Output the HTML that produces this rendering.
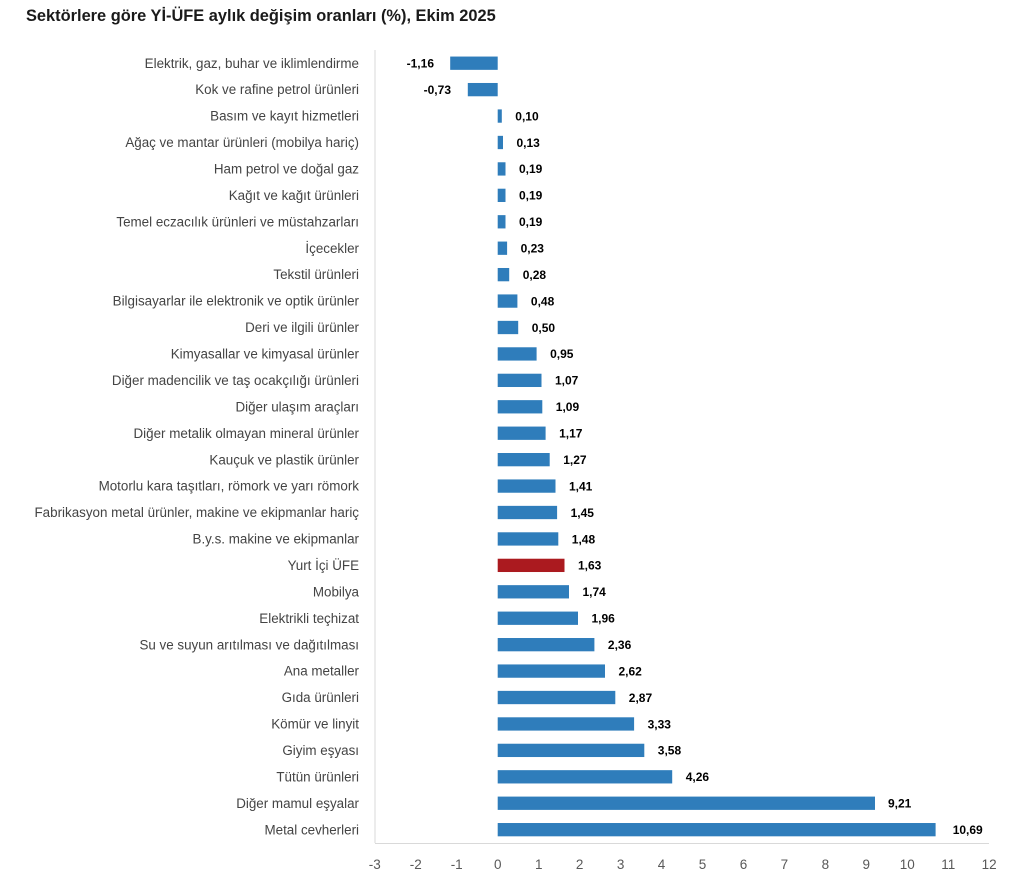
<!DOCTYPE html>
<html>
<head>
<meta charset="utf-8">
<style>
  html, body { margin:0; padding:0; background:#ffffff; }
  svg { display:block; }
  .cat { font-family:"Liberation Sans", Arial, sans-serif; font-size:13.4px; fill:#444444; }
  .val { font-family:"Liberation Sans", Arial, sans-serif; font-size:12px; font-weight:bold; fill:#000000; }
  .tick { font-family:"Liberation Sans", Arial, sans-serif; font-size:13.5px; fill:#595959; }
  .title { font-family:"Liberation Sans", Arial, sans-serif; font-size:16.4px; font-weight:bold; fill:#1a1a1a; }
</style>
</head>
<body>
<svg width="1027" height="886" viewBox="0 0 1027 886" xmlns="http://www.w3.org/2000/svg">
  <rect x="0" y="0" width="1027" height="886" fill="#ffffff"/>
  <text class="title" x="26" y="21">Sektörlere göre Yİ-ÜFE aylık değişim oranları (%), Ekim 2025</text>

  <!-- axes -->
  <line x1="375" y1="50" x2="375" y2="843" stroke="#d9d9d9" stroke-width="1"/>
  <line x1="375" y1="843.5" x2="989" y2="843.5" stroke="#d9d9d9" stroke-width="1"/>

  <g id="rows"></g>

  <!-- tick labels -->
  <g text-anchor="middle">
    <text class="tick" x="374.8" y="869">-3</text>
    <text class="tick" x="415.8" y="869">-2</text>
    <text class="tick" x="456.7" y="869">-1</text>
    <text class="tick" x="497.7" y="869">0</text>
    <text class="tick" x="538.7" y="869">1</text>
    <text class="tick" x="579.6" y="869">2</text>
    <text class="tick" x="620.6" y="869">3</text>
    <text class="tick" x="661.5" y="869">4</text>
    <text class="tick" x="702.5" y="869">5</text>
    <text class="tick" x="743.5" y="869">6</text>
    <text class="tick" x="784.4" y="869">7</text>
    <text class="tick" x="825.4" y="869">8</text>
    <text class="tick" x="866.3" y="869">9</text>
    <text class="tick" x="907.3" y="869">10</text>
    <text class="tick" x="948.3" y="869">11</text>
    <text class="tick" x="989.2" y="869">12</text>
  </g>

  <!-- rows: center y = 63.2 + i*26.43 ; x0 = 497.7 ; unit = 40.96 -->
  <!-- 0 -->
  <text class="cat" x="359" y="67.8" text-anchor="end">Elektrik, gaz, buhar ve iklimlendirme</text>
  <rect x="450.2" y="56.55" width="47.5" height="13.3" fill="#2f7dbb"/>
  <text class="val" x="434" y="67.5" text-anchor="end">-1,16</text>
  <!-- 1 -->
  <text class="cat" x="359" y="94.2" text-anchor="end">Kok ve rafine petrol ürünleri</text>
  <rect x="467.8" y="82.98" width="29.9" height="13.3" fill="#2f7dbb"/>
  <text class="val" x="451" y="93.9" text-anchor="end">-0,73</text>
  <!-- 2 -->
  <text class="cat" x="359" y="120.7" text-anchor="end">Basım ve kayıt hizmetleri</text>
  <rect x="497.7" y="109.41" width="4.1" height="13.3" fill="#2f7dbb"/>
  <text class="val" x="515.3" y="120.4">0,10</text>
  <!-- 3 -->
  <text class="cat" x="359" y="147.1" text-anchor="end">Ağaç ve mantar ürünleri (mobilya hariç)</text>
  <rect x="497.7" y="135.84" width="5.3" height="13.3" fill="#2f7dbb"/>
  <text class="val" x="516.5" y="146.8">0,13</text>
  <!-- 4 -->
  <text class="cat" x="359" y="173.5" text-anchor="end">Ham petrol ve doğal gaz</text>
  <rect x="497.7" y="162.27" width="7.8" height="13.3" fill="#2f7dbb"/>
  <text class="val" x="519" y="173.2">0,19</text>
  <!-- 5 -->
  <text class="cat" x="359" y="199.9" text-anchor="end">Kağıt ve kağıt ürünleri</text>
  <rect x="497.7" y="188.7" width="7.8" height="13.3" fill="#2f7dbb"/>
  <text class="val" x="519" y="199.6">0,19</text>
  <!-- 6 -->
  <text class="cat" x="359" y="226.4" text-anchor="end">Temel eczacılık ürünleri ve müstahzarları</text>
  <rect x="497.7" y="215.13" width="7.8" height="13.3" fill="#2f7dbb"/>
  <text class="val" x="519" y="226.1">0,19</text>
  <!-- 7 -->
  <text class="cat" x="359" y="252.8" text-anchor="end">İçecekler</text>
  <rect x="497.7" y="241.56" width="9.4" height="13.3" fill="#2f7dbb"/>
  <text class="val" x="520.6" y="252.5">0,23</text>
  <!-- 8 -->
  <text class="cat" x="359" y="279.2" text-anchor="end">Tekstil ürünleri</text>
  <rect x="497.7" y="267.99" width="11.5" height="13.3" fill="#2f7dbb"/>
  <text class="val" x="522.7" y="278.9">0,28</text>
  <!-- 9 -->
  <text class="cat" x="359" y="305.7" text-anchor="end">Bilgisayarlar ile elektronik ve optik ürünler</text>
  <rect x="497.7" y="294.42" width="19.7" height="13.3" fill="#2f7dbb"/>
  <text class="val" x="530.9" y="305.4">0,48</text>
  <!-- 10 -->
  <text class="cat" x="359" y="332.1" text-anchor="end">Deri ve ilgili ürünler</text>
  <rect x="497.7" y="320.85" width="20.5" height="13.3" fill="#2f7dbb"/>
  <text class="val" x="531.7" y="331.8">0,50</text>
  <!-- 11 -->
  <text class="cat" x="359" y="358.5" text-anchor="end">Kimyasallar ve kimyasal ürünler</text>
  <rect x="497.7" y="347.28" width="38.9" height="13.3" fill="#2f7dbb"/>
  <text class="val" x="550.1" y="358.2">0,95</text>
  <!-- 12 -->
  <text class="cat" x="359" y="385.0" text-anchor="end">Diğer madencilik ve taş ocakçılığı ürünleri</text>
  <rect x="497.7" y="373.71" width="43.8" height="13.3" fill="#2f7dbb"/>
  <text class="val" x="555" y="384.7">1,07</text>
  <!-- 13 -->
  <text class="cat" x="359" y="411.4" text-anchor="end">Diğer ulaşım araçları</text>
  <rect x="497.7" y="400.14" width="44.6" height="13.3" fill="#2f7dbb"/>
  <text class="val" x="555.8" y="411.1">1,09</text>
  <!-- 14 -->
  <text class="cat" x="359" y="437.8" text-anchor="end">Diğer metalik olmayan mineral ürünler</text>
  <rect x="497.7" y="426.57" width="47.9" height="13.3" fill="#2f7dbb"/>
  <text class="val" x="559.1" y="437.5">1,17</text>
  <!-- 15 -->
  <text class="cat" x="359" y="464.3" text-anchor="end">Kauçuk ve plastik ürünler</text>
  <rect x="497.7" y="453.0" width="52.0" height="13.3" fill="#2f7dbb"/>
  <text class="val" x="563.2" y="464.0">1,27</text>
  <!-- 16 -->
  <text class="cat" x="359" y="490.7" text-anchor="end">Motorlu kara taşıtları, römork ve yarı römork</text>
  <rect x="497.7" y="479.43" width="57.8" height="13.3" fill="#2f7dbb"/>
  <text class="val" x="569" y="490.4">1,41</text>
  <!-- 17 -->
  <text class="cat" x="359" y="517.1" text-anchor="end">Fabrikasyon metal ürünler, makine ve ekipmanlar hariç</text>
  <rect x="497.7" y="505.86" width="59.4" height="13.3" fill="#2f7dbb"/>
  <text class="val" x="570.6" y="516.8">1,45</text>
  <!-- 18 -->
  <text class="cat" x="359" y="543.6" text-anchor="end">B.y.s. makine ve ekipmanlar</text>
  <rect x="497.7" y="532.29" width="60.6" height="13.3" fill="#2f7dbb"/>
  <text class="val" x="571.8" y="543.3">1,48</text>
  <!-- 19 -->
  <text class="cat" x="359" y="570.0" text-anchor="end">Yurt İçi ÜFE</text>
  <rect x="497.7" y="558.72" width="66.8" height="13.3" fill="#ab1a1f"/>
  <text class="val" x="578" y="569.7">1,63</text>
  <!-- 20 -->
  <text class="cat" x="359" y="596.4" text-anchor="end">Mobilya</text>
  <rect x="497.7" y="585.15" width="71.3" height="13.3" fill="#2f7dbb"/>
  <text class="val" x="582.5" y="596.1">1,74</text>
  <!-- 21 -->
  <text class="cat" x="359" y="622.9" text-anchor="end">Elektrikli teçhizat</text>
  <rect x="497.7" y="611.58" width="80.3" height="13.3" fill="#2f7dbb"/>
  <text class="val" x="591.5" y="622.6">1,96</text>
  <!-- 22 -->
  <text class="cat" x="359" y="649.3" text-anchor="end">Su ve suyun arıtılması ve dağıtılması</text>
  <rect x="497.7" y="638.01" width="96.7" height="13.3" fill="#2f7dbb"/>
  <text class="val" x="607.9" y="649.0">2,36</text>
  <!-- 23 -->
  <text class="cat" x="359" y="675.7" text-anchor="end">Ana metaller</text>
  <rect x="497.7" y="664.44" width="107.3" height="13.3" fill="#2f7dbb"/>
  <text class="val" x="618.5" y="675.4">2,62</text>
  <!-- 24 -->
  <text class="cat" x="359" y="702.1" text-anchor="end">Gıda ürünleri</text>
  <rect x="497.7" y="690.87" width="117.6" height="13.3" fill="#2f7dbb"/>
  <text class="val" x="628.8" y="701.8">2,87</text>
  <!-- 25 -->
  <text class="cat" x="359" y="728.6" text-anchor="end">Kömür ve linyit</text>
  <rect x="497.7" y="717.3" width="136.4" height="13.3" fill="#2f7dbb"/>
  <text class="val" x="647.6" y="728.3">3,33</text>
  <!-- 26 -->
  <text class="cat" x="359" y="755.0" text-anchor="end">Giyim eşyası</text>
  <rect x="497.7" y="743.73" width="146.6" height="13.3" fill="#2f7dbb"/>
  <text class="val" x="657.8" y="754.7">3,58</text>
  <!-- 27 -->
  <text class="cat" x="359" y="781.4" text-anchor="end">Tütün ürünleri</text>
  <rect x="497.7" y="770.16" width="174.5" height="13.3" fill="#2f7dbb"/>
  <text class="val" x="685.7" y="781.1">4,26</text>
  <!-- 28 -->
  <text class="cat" x="359" y="807.9" text-anchor="end">Diğer mamul eşyalar</text>
  <rect x="497.7" y="796.59" width="377.3" height="13.3" fill="#2f7dbb"/>
  <text class="val" x="888" y="807.6">9,21</text>
  <!-- 29 -->
  <text class="cat" x="359" y="834.3" text-anchor="end">Metal cevherleri</text>
  <rect x="497.7" y="823.02" width="437.9" height="13.3" fill="#2f7dbb"/>
  <text class="val" x="952.7" y="834.0">10,69</text>
</svg>
</body>
</html>
